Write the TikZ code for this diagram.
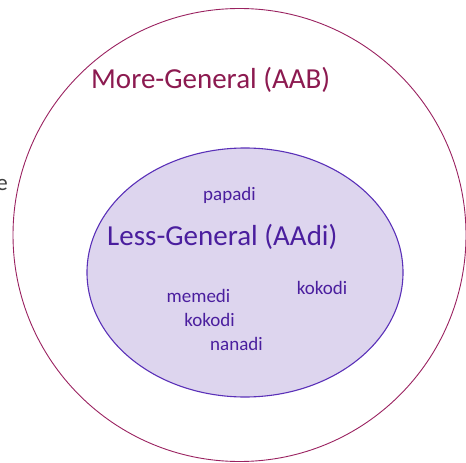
\documentclass[tikz,border=0pt]{standalone}
\usepackage{fontspec}
\setmainfont{Carlito}
\usetikzlibrary{shapes.geometric,positioning}

\definecolor{outerline}{HTML}{9A2260}
\definecolor{outertext}{HTML}{8C1A50}
\definecolor{innerfill}{HTML}{DDD5EE}
\definecolor{innerline}{HTML}{5A30B8}
\definecolor{innertext}{HTML}{4A1E9E}

\begin{document}
\begin{tikzpicture}[x=1bp,y=-1bp,
    set/.style={draw, inner sep=0pt},
    word/.style={text=innertext, font=\fontsize{19bp}{21bp}\selectfont, inner sep=0pt}]

    \useasboundingbox (0,0) rectangle (466,463);

    \node[set, circle, draw=outerline, line width=0.9bp, minimum size=453bp] (more_general) at (239.5,235) {};
    \node[set, ellipse, draw=innerline, fill=innerfill, line width=1.1bp,
          minimum width=316bp, minimum height=249bp] (less_general) at (245,272.5) {};

    \node[text=outertext, font=\fontsize{29bp}{32bp}\selectfont, anchor=west, inner sep=0pt] (more_label) at (91,80) {More-General (AAB)};
    \node[text=innertext, font=\fontsize{29bp}{31bp}\selectfont, anchor=west, inner sep=0pt] (less_label) at (107,237) {Less-General (AAdi)};

    \node[word] (w_papadi) at (229.5,195) {papadi};
    \node[word] (w_kokodi_a) at (322,288) {kokodi};
    \node[word] (w_memedi) at (198.5,296) {memedi};
    \node[word] (w_kokodi_b) at (209.5,320) {kokodi};
    \node[word] (w_nanadi) at (236.5,344) {nanadi};

    \node[text=black!75, font=\fontsize{23bp}{25bp}\selectfont, anchor=east, inner sep=0pt] (cut_e) at (8,185) {e};

  \end{tikzpicture}
\end{document}
